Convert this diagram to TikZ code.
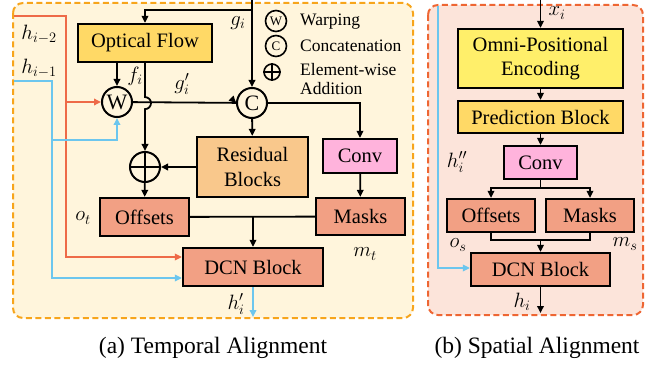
\documentclass[tikz,border=0pt]{standalone}
\usepackage{fontspec}
\setmainfont{Liberation Serif}
\usetikzlibrary{arrows.meta,positioning,calc}

\definecolor{tempbg}{HTML}{FFF5DC}
\definecolor{tempframe}{HTML}{F7A51C}
\definecolor{spatbg}{HTML}{FCE4DA}
\definecolor{spatframe}{HTML}{EE6633}
\definecolor{flowfill}{HTML}{FFD966}
\definecolor{resfill}{HTML}{F9C88C}
\definecolor{convfill}{HTML}{FFB3DC}
\definecolor{dcnfill}{HTML}{F2A084}
\definecolor{omnifill}{HTML}{FFEF6A}
\definecolor{redline}{HTML}{EE6A48}
\definecolor{blueline}{HTML}{6CC6EE}

\begin{document}
\begin{tikzpicture}[
  x=1pt, y=-1pt,
  box/.style={draw, line width=2.2pt, inner sep=0pt, align=center,
              font=\fontsize{20.5}{24.5}\selectfont},
  op/.style={draw, circle, line width=2pt, minimum size=30pt, inner sep=0pt,
             font=\fontsize{22}{22}\selectfont},
  keyop/.style={draw, circle, line width=1.6pt, minimum size=21pt, inner sep=0pt,
                font=\fontsize{13}{13}\selectfont},
  lbl/.style={inner sep=0pt, font=\fontsize{21}{21}\selectfont},
  keytxt/.style={inner sep=0pt, anchor=west, align=left,
                 font=\fontsize{17.5}{19}\selectfont},
  caption/.style={inner sep=0pt, font=\fontsize{23.5}{26}\selectfont},
  panel/.style={line width=2pt, dash pattern=on 6pt off 3.5pt, rounded corners=10pt},
  wire/.style={line width=1.8pt},
  arr/.style={-{Triangle[length=7pt,width=6.5pt]}, line width=1.8pt},
  rarr/.style={arr, redline},
  barr/.style={arr, blueline},
]
\useasboundingbox (0,0) rectangle (664,366);

\draw[panel, draw=tempframe, fill=tempbg] (13,3) rectangle (413,318);
\draw[panel, draw=spatframe, fill=spatbg] (428,5) rectangle (643,315);

% temporal alignment
\node[box, fill=flowfill, minimum width=134pt, minimum height=38pt] (flow) at (145,43) {Optical Flow};
\node[op] (warp) at (117,102) {W};
\node[op] (cat) at (252,103) {C};
\node[op] (add) at (145,167) {};
\draw[line width=2pt] (add.north) -- (add.south) (add.west) -- (add.east);
\node[box, fill=resfill, minimum width=111pt, minimum height=60pt] (res) at (252.5,167) {Residual\\Blocks};
\node[box, fill=convfill, minimum width=74pt, minimum height=34pt] (convA) at (360,156) {Conv};
\node[box, fill=dcnfill, minimum width=89pt, minimum height=37pt] (masksA) at (360.5,216.5) {Masks};
\node[box, fill=dcnfill, minimum width=89pt, minimum height=38pt] (offA) at (144.5,217) {Offsets};
\node[box, fill=dcnfill, minimum width=140pt, minimum height=38pt] (dcnA) at (253,267) {DCN Block};

\node[keyop] (keyW) at (276,21) {W};
\node[keyop] (keyC) at (276,46) {C};
\node[keyop, minimum size=16pt] (keyA) at (272,72) {};
\draw[line width=1.6pt] (keyA.north) -- (keyA.south) (keyA.west) -- (keyA.east);
\node[keytxt] (txtW) at (300,22) {Warping};
\node[keytxt] (txtC) at (300,46) {Concatenation};
\node[keytxt] (txtA) at (300,79) {Element-wise\\Addition};

\coordinate (gin) at (252,0);
\coordinate (gsplit) at (252,10);
\coordinate (prev2) at (14,16);
\coordinate (bend2) at (66,16);
\coordinate (prev1) at (14,81);
\coordinate (bend1) at (52,81);
\coordinate (outA) at (253,317);

\draw[arr] (gin) -- (cat);
\draw[arr] (gsplit) -| (flow.north);
\draw[arr] (flow.south -| warp) -- (warp);
\draw[wire] (warp) -- (cat);
\draw[arr] (warp.east -| cat.west) ++(-1,0) -- (cat.west);
\draw[arr] (flow.south) -- ++(0,34) arc[start angle=-90, end angle=90, radius=6] -- (add.north);
\draw[arr] (cat) -- (res);
\draw[arr] (cat.east) -| (convA.north);
\draw[arr] (res.west) -- (add.east);
\draw[arr] (add) -- (offA);
\draw[arr] (convA) -- (masksA);
\draw[wire] (offA) -- (masksA);
\draw[arr] (offA.east -| dcnA.north) -- (dcnA.north);
\draw[barr] (dcnA) -- (outA);

\draw[rarr] (prev2) -- (bend2) |- ([yshift=10pt]dcnA.west);
\draw[rarr] (bend2 |- warp) -- (warp);
\draw[barr] (prev1) -- (bend1) |- ([yshift=-11pt]dcnA.west);
\draw[barr] ($(bend1)+(0,59)$) -| (warp.south);

\node[lbl] (lh2) at (39,34) {$h_{i-2}$};
\node[lbl] (lh1) at (39,68) {$h_{i-1}$};
\node[lbl] (lf) at (135,76) {$f_i$};
\node[lbl] (lgp) at (182,84) {$g_i'$};
\node[lbl] (lg) at (238,23) {$g_i$};
\node[lbl] (lot) at (83,218) {$o_t$};
\node[lbl] (lmt) at (365,254) {$m_t$};
\node[lbl] (lhp) at (236,304) {$h_i'$};

% spatial alignment
\node[box, fill=omnifill, minimum width=165pt, minimum height=59pt] (omni) at (540.5,58.5) {Omni-Positional\\Encoding};
\node[box, fill=flowfill, minimum width=165pt, minimum height=32pt] (pred) at (540.5,117) {Prediction Block};
\node[box, fill=convfill, minimum width=73pt, minimum height=33pt] (convB) at (540.5,162.5) {Conv};
\node[box, fill=dcnfill, minimum width=88pt, minimum height=33pt] (offB) at (491,215.5) {Offsets};
\node[box, fill=dcnfill, minimum width=88pt, minimum height=33pt] (masksB) at (590,215.5) {Masks};
\node[box, fill=dcnfill, minimum width=139pt, minimum height=33pt] (dcnB) at (540.5,269.5) {DCN Block};

\coordinate (xin) at (540.5,0);
\coordinate (hpp) at (438,6);
\coordinate (outB) at (540.5,313);

\draw[arr] (xin) -- (omni);
\draw[arr] (omni) -- (pred);
\draw[arr] (pred) -- (convB);
\draw[wire] (convB.south) -- ++(0,8) coordinate (csplit);
\draw[arr] (csplit) -| (offB.north);
\draw[arr] (csplit) -| (masksB.north);
\draw[wire] (offB.south) -- ++(0,7) coordinate (osplit) -| (masksB.south);
\draw[arr] (osplit -| dcnB.north) -- (dcnB.north);
\draw[arr] (dcnB) -- (outB);
\draw[barr] (hpp) |- ([yshift=1.5pt]dcnB.west);

\node[lbl] (lx) at (557,13) {$x_i$};
\node[lbl] (lhpp) at (457,162) {$h_i''$};
\node[lbl] (los) at (458,245) {$o_s$};
\node[lbl] (lms) at (625,244) {$m_s$};
\node[lbl] (lh) at (522,302) {$h_i$};

\node[caption] (capA) at (213,348) {(a) Temporal Alignment};
\node[caption] (capB) at (537,348) {(b) Spatial Alignment};
\end{tikzpicture}
\end{document}
